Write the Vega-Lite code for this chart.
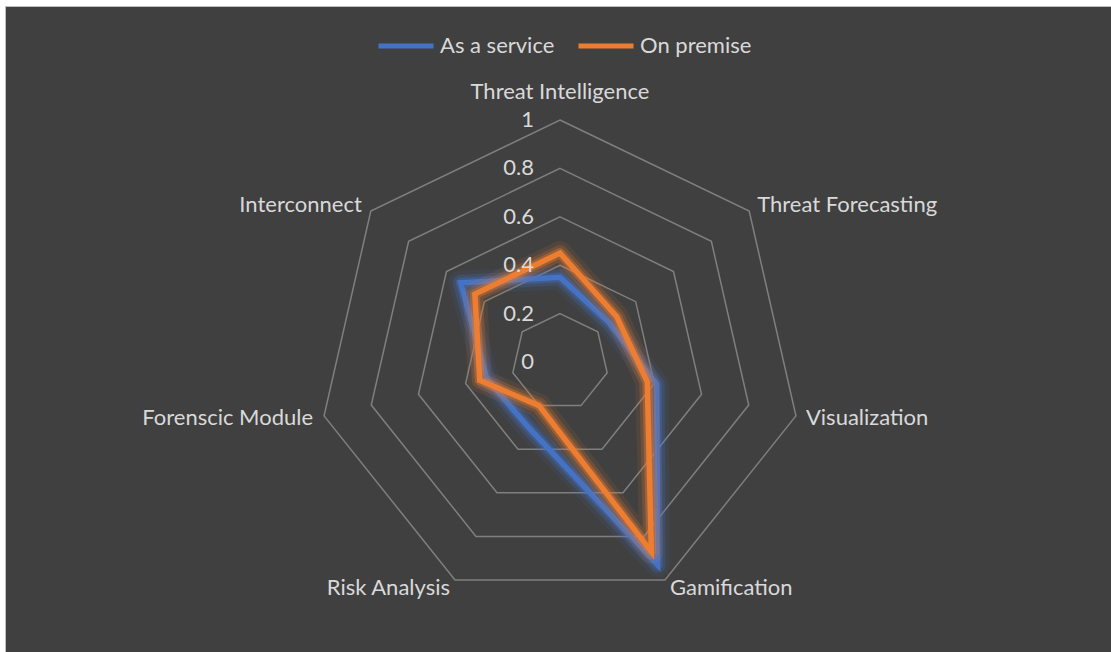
{
  "$schema": "https://vega.github.io/schema/vega-lite/v6.json",
  "width": 1106,
  "height": 646,
  "autosize": "none",
  "padding": {"left": 5, "top": 6, "right": 0, "bottom": 0},
  "background": "white",
  "config": {
    "view": {"fill": "#404040", "stroke": "#BFBFBF", "strokeWidth": 1},
    "text": {"font": "Lato", "fontSize": 22, "color": "#D9D9D9"},
    "legend": {"labelFont": "Lato", "labelFontSize": 22, "labelColor": "#D9D9D9"}
  },
  "datasets": {
    "scores": [
      {"series": "As a service", "axis": "Threat Intelligence", "i": 0, "value": 0.35},
      {"series": "As a service", "axis": "Threat Forecasting", "i": 1, "value": 0.26},
      {"series": "As a service", "axis": "Visualization", "i": 2, "value": 0.41},
      {"series": "As a service", "axis": "Gamification", "i": 3, "value": 0.93},
      {"series": "As a service", "axis": "Risk Analysis", "i": 4, "value": 0.30},
      {"series": "As a service", "axis": "Forenscic Module", "i": 5, "value": 0.31},
      {"series": "As a service", "axis": "Interconnect", "i": 6, "value": 0.525},
      {"series": "On premise", "axis": "Threat Intelligence", "i": 0, "value": 0.45},
      {"series": "On premise", "axis": "Threat Forecasting", "i": 1, "value": 0.30},
      {"series": "On premise", "axis": "Visualization", "i": 2, "value": 0.37},
      {"series": "On premise", "axis": "Gamification", "i": 3, "value": 0.87},
      {"series": "On premise", "axis": "Risk Analysis", "i": 4, "value": 0.20},
      {"series": "On premise", "axis": "Forenscic Module", "i": 5, "value": 0.34},
      {"series": "On premise", "axis": "Interconnect", "i": 6, "value": 0.45}
    ],
    "axes": [
      {"axis": "Threat Intelligence", "i": 0},
      {"axis": "Threat Forecasting", "i": 1},
      {"axis": "Visualization", "i": 2},
      {"axis": "Gamification", "i": 3},
      {"axis": "Risk Analysis", "i": 4},
      {"axis": "Forenscic Module", "i": 5},
      {"axis": "Interconnect", "i": 6}
    ],
    "levels": [
      {"level": 0, "label": "0"},
      {"level": 0.2, "label": "0.2"},
      {"level": 0.4, "label": "0.4"},
      {"level": 0.6, "label": "0.6"},
      {"level": 0.8, "label": "0.8"},
      {"level": 1, "label": "1"}
    ],
    "grid": [
      {"level": 0.2, "i": 0}, {"level": 0.2, "i": 1}, {"level": 0.2, "i": 2}, {"level": 0.2, "i": 3}, {"level": 0.2, "i": 4}, {"level": 0.2, "i": 5}, {"level": 0.2, "i": 6},
      {"level": 0.4, "i": 0}, {"level": 0.4, "i": 1}, {"level": 0.4, "i": 2}, {"level": 0.4, "i": 3}, {"level": 0.4, "i": 4}, {"level": 0.4, "i": 5}, {"level": 0.4, "i": 6},
      {"level": 0.6, "i": 0}, {"level": 0.6, "i": 1}, {"level": 0.6, "i": 2}, {"level": 0.6, "i": 3}, {"level": 0.6, "i": 4}, {"level": 0.6, "i": 5}, {"level": 0.6, "i": 6},
      {"level": 0.8, "i": 0}, {"level": 0.8, "i": 1}, {"level": 0.8, "i": 2}, {"level": 0.8, "i": 3}, {"level": 0.8, "i": 4}, {"level": 0.8, "i": 5}, {"level": 0.8, "i": 6},
      {"level": 1, "i": 0}, {"level": 1, "i": 1}, {"level": 1, "i": 2}, {"level": 1, "i": 3}, {"level": 1, "i": 4}, {"level": 1, "i": 5}, {"level": 1, "i": 6}
    ]
  },
  "encoding": {
    "x": {"field": "x", "type": "quantitative", "axis": null, "scale": {"domain": [-2.2934, 2.2769], "nice": false, "zero": false}},
    "y": {"field": "y", "type": "quantitative", "axis": null, "scale": {"domain": [-1.1983, 1.4711], "nice": false, "zero": false}}
  },
  "layer": [
    {
      "data": {"name": "grid"},
      "transform": [
        {"calculate": "datum.level * sin(datum.i * 2 * PI / 7)", "as": "x"},
        {"calculate": "datum.level * cos(datum.i * 2 * PI / 7)", "as": "y"}
      ],
      "mark": {"type": "line", "interpolate": "linear-closed", "stroke": "#7F7F7F", "strokeWidth": 1.5},
      "encoding": {"detail": {"field": "level"}, "order": {"field": "i"}}
    },
    {
      "data": {"name": "scores"},
      "transform": [
        {"filter": "datum.series === 'As a service'"},
        {"calculate": "datum.value * sin(datum.i * 2 * PI / 7)", "as": "x"},
        {"calculate": "datum.value * cos(datum.i * 2 * PI / 7)", "as": "y"}
      ],
      "mark": {"type": "line", "interpolate": "linear-closed", "stroke": "#4472C4", "strokeWidth": 24, "opacity": 0.1, "strokeJoin": "round"},
      "encoding": {"order": {"field": "i"}}
    },
    {
      "data": {"name": "scores"},
      "transform": [
        {"filter": "datum.series === 'As a service'"},
        {"calculate": "datum.value * sin(datum.i * 2 * PI / 7)", "as": "x"},
        {"calculate": "datum.value * cos(datum.i * 2 * PI / 7)", "as": "y"}
      ],
      "mark": {"type": "line", "interpolate": "linear-closed", "stroke": "#4472C4", "strokeWidth": 16, "opacity": 0.2, "strokeJoin": "round"},
      "encoding": {"order": {"field": "i"}}
    },
    {
      "data": {"name": "scores"},
      "transform": [
        {"filter": "datum.series === 'As a service'"},
        {"calculate": "datum.value * sin(datum.i * 2 * PI / 7)", "as": "x"},
        {"calculate": "datum.value * cos(datum.i * 2 * PI / 7)", "as": "y"}
      ],
      "mark": {"type": "line", "interpolate": "linear-closed", "stroke": "#4472C4", "strokeWidth": 10, "opacity": 0.35, "strokeJoin": "round"},
      "encoding": {"order": {"field": "i"}}
    },
    {
      "data": {"name": "scores"},
      "transform": [
        {"filter": "datum.series === 'As a service'"},
        {"calculate": "datum.value * sin(datum.i * 2 * PI / 7)", "as": "x"},
        {"calculate": "datum.value * cos(datum.i * 2 * PI / 7)", "as": "y"}
      ],
      "mark": {"type": "line", "interpolate": "linear-closed", "strokeWidth": 5.5, "strokeJoin": "miter"},
      "encoding": {
        "order": {"field": "i"},
        "color": {
          "field": "series", "type": "nominal",
          "scale": {"domain": ["As a service", "On premise"], "range": ["#4472C4", "#ED7D31"]},
          "legend": {"orient": "none", "legendX": 371, "legendY": 10, "direction": "horizontal", "title": null, "symbolType": "stroke", "symbolSize": 3025, "symbolStrokeWidth": 5, "labelOffset": 4, "columnPadding": 13}
        }
      }
    },
    {
      "data": {"name": "scores"},
      "transform": [
        {"filter": "datum.series === 'On premise'"},
        {"calculate": "datum.value * sin(datum.i * 2 * PI / 7)", "as": "x"},
        {"calculate": "datum.value * cos(datum.i * 2 * PI / 7)", "as": "y"}
      ],
      "mark": {"type": "line", "interpolate": "linear-closed", "stroke": "#ED7D31", "strokeWidth": 24, "opacity": 0.1, "strokeJoin": "round"},
      "encoding": {"order": {"field": "i"}}
    },
    {
      "data": {"name": "scores"},
      "transform": [
        {"filter": "datum.series === 'On premise'"},
        {"calculate": "datum.value * sin(datum.i * 2 * PI / 7)", "as": "x"},
        {"calculate": "datum.value * cos(datum.i * 2 * PI / 7)", "as": "y"}
      ],
      "mark": {"type": "line", "interpolate": "linear-closed", "stroke": "#ED7D31", "strokeWidth": 16, "opacity": 0.2, "strokeJoin": "round"},
      "encoding": {"order": {"field": "i"}}
    },
    {
      "data": {"name": "scores"},
      "transform": [
        {"filter": "datum.series === 'On premise'"},
        {"calculate": "datum.value * sin(datum.i * 2 * PI / 7)", "as": "x"},
        {"calculate": "datum.value * cos(datum.i * 2 * PI / 7)", "as": "y"}
      ],
      "mark": {"type": "line", "interpolate": "linear-closed", "stroke": "#ED7D31", "strokeWidth": 10, "opacity": 0.35, "strokeJoin": "round"},
      "encoding": {"order": {"field": "i"}}
    },
    {
      "data": {"name": "scores"},
      "transform": [
        {"filter": "datum.series === 'On premise'"},
        {"calculate": "datum.value * sin(datum.i * 2 * PI / 7)", "as": "x"},
        {"calculate": "datum.value * cos(datum.i * 2 * PI / 7)", "as": "y"}
      ],
      "mark": {"type": "line", "interpolate": "linear-closed", "strokeWidth": 5.5, "strokeJoin": "miter"},
      "encoding": {
        "order": {"field": "i"},
        "color": {"field": "series", "type": "nominal", "scale": {"domain": ["As a service", "On premise"], "range": ["#4472C4", "#ED7D31"]}}
      }
    },
    {
      "data": {"name": "levels"},
      "transform": [
        {"calculate": "0", "as": "x"},
        {"calculate": "datum.level", "as": "y"}
      ],
      "mark": {"type": "text", "align": "right", "baseline": "middle", "dx": -26},
      "encoding": {"text": {"field": "label"}}
    },
    {
      "data": {"name": "axes"},
      "transform": [
        {"filter": "datum.i === 0"},
        {"calculate": "sin(datum.i * 2 * PI / 7)", "as": "x"},
        {"calculate": "cos(datum.i * 2 * PI / 7)", "as": "y"}
      ],
      "mark": {"type": "text", "align": "center", "baseline": "middle", "dy": -28},
      "encoding": {"text": {"field": "axis"}}
    },
    {
      "data": {"name": "axes"},
      "transform": [
        {"filter": "datum.i === 1"},
        {"calculate": "sin(datum.i * 2 * PI / 7)", "as": "x"},
        {"calculate": "cos(datum.i * 2 * PI / 7)", "as": "y"}
      ],
      "mark": {"type": "text", "align": "left", "baseline": "middle", "dx": 8, "dy": -6},
      "encoding": {"text": {"field": "axis"}}
    },
    {
      "data": {"name": "axes"},
      "transform": [
        {"filter": "datum.i === 2"},
        {"calculate": "sin(datum.i * 2 * PI / 7)", "as": "x"},
        {"calculate": "cos(datum.i * 2 * PI / 7)", "as": "y"}
      ],
      "mark": {"type": "text", "align": "left", "baseline": "middle", "dx": 10, "dy": 2},
      "encoding": {"text": {"field": "axis"}}
    },
    {
      "data": {"name": "axes"},
      "transform": [
        {"filter": "datum.i === 3"},
        {"calculate": "sin(datum.i * 2 * PI / 7)", "as": "x"},
        {"calculate": "cos(datum.i * 2 * PI / 7)", "as": "y"}
      ],
      "mark": {"type": "text", "align": "left", "baseline": "middle", "dx": 5, "dy": 8},
      "encoding": {"text": {"field": "axis"}}
    },
    {
      "data": {"name": "axes"},
      "transform": [
        {"filter": "datum.i === 4"},
        {"calculate": "sin(datum.i * 2 * PI / 7)", "as": "x"},
        {"calculate": "cos(datum.i * 2 * PI / 7)", "as": "y"}
      ],
      "mark": {"type": "text", "align": "right", "baseline": "middle", "dx": -5, "dy": 8},
      "encoding": {"text": {"field": "axis"}}
    },
    {
      "data": {"name": "axes"},
      "transform": [
        {"filter": "datum.i === 5"},
        {"calculate": "sin(datum.i * 2 * PI / 7)", "as": "x"},
        {"calculate": "cos(datum.i * 2 * PI / 7)", "as": "y"}
      ],
      "mark": {"type": "text", "align": "right", "baseline": "middle", "dx": -11, "dy": 2},
      "encoding": {"text": {"field": "axis"}}
    },
    {
      "data": {"name": "axes"},
      "transform": [
        {"filter": "datum.i === 6"},
        {"calculate": "sin(datum.i * 2 * PI / 7)", "as": "x"},
        {"calculate": "cos(datum.i * 2 * PI / 7)", "as": "y"}
      ],
      "mark": {"type": "text", "align": "right", "baseline": "middle", "dx": -9, "dy": -6},
      "encoding": {"text": {"field": "axis"}}
    }
  ]
}
